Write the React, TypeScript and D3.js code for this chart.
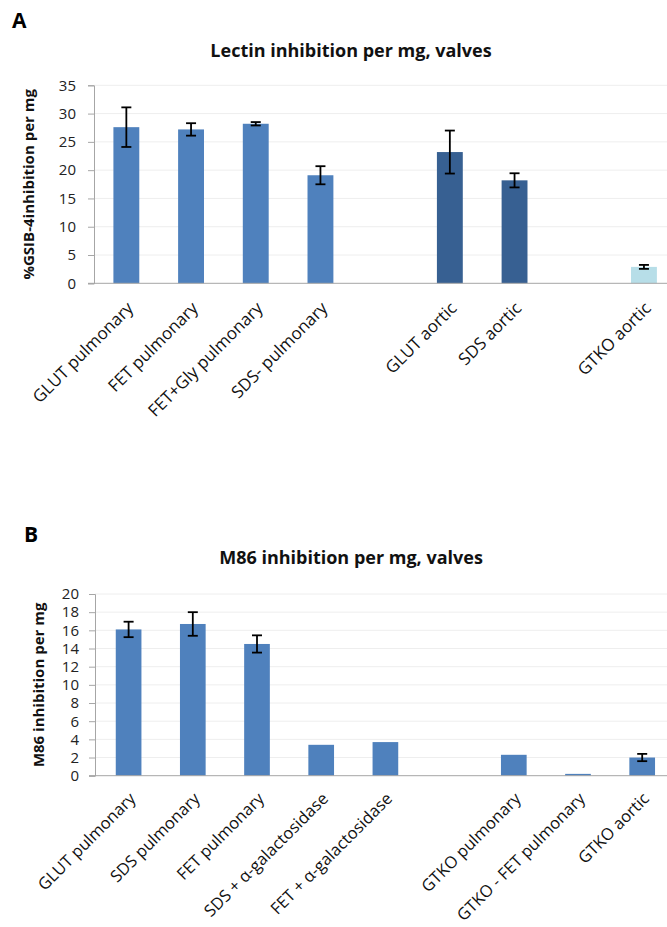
import React, { useEffect, useRef } from 'react';
import * as d3 from 'd3';

// panel A: lectin inhibition
const lectinCategories = ['GLUT pulmonary', 'FET pulmonary', 'FET+Gly pulmonary', 'SDS- pulmonary', '', 'GLUT aortic', 'SDS aortic', '', 'GTKO aortic'];
const lectinValues = [27.6, 27.2, 28.2, 19.1, null, 23.2, 18.2, null, 2.9];
const lectinErrors = [3.5, 1.1, 0.3, 1.6, null, 3.8, 1.25, null, 0.35];
const lectinGroups = ['pulmonary', 'pulmonary', 'pulmonary', 'pulmonary', '', 'aortic', 'aortic', '', 'gtko'];
const lectinTicks = [0, 5, 10, 15, 20, 25, 30, 35];

// panel B: M86 inhibition
const m86Categories = ['GLUT pulmonary', 'SDS pulmonary', 'FET pulmonary', 'SDS + α-galactosidase', 'FET + α-galactosidase', '', 'GTKO pulmonary', 'GTKO - FET pulmonary', 'GTKO aortic'];
const m86Values = [16.1, 16.7, 14.5, 3.4, 3.7, null, 2.3, 0.2, 2.0];
const m86Errors = [0.85, 1.3, 0.95, null, null, null, null, null, 0.4];
const m86Ticks = [0, 2, 4, 6, 8, 10, 12, 14, 16, 18, 20];

const colors: Record<string, string> = {
  pulmonary: '#4f81bd',
  aortic: '#376092',
  gtko: '#b7dee8',
};

const font = "'Open Sans', sans-serif";

type Panel = {
  letter: string;
  letterX: number;
  letterY: number;
  title: string;
  titleY: number;
  yLabel: string;
  yLabelX: number;
  categories: string[];
  values: (number | null)[];
  errors: (number | null)[];
  groups: string[];
  ticks: number[];
  yMax: number;
  axisX: number;
  slotStart: number;
  step: number;
  top: number;
  bottom: number;
  tickFont: number;
  tickRight: number;
  labelFont: number;
  labelDy: number;
};

export default function App() {
  const ref = useRef<SVGSVGElement>(null);

  useEffect(() => {
    const svg = d3.select(ref.current);
    svg.selectAll('*').remove();
    const width = 667;

    const drawPanel = (p: Panel) => {
      const g = svg.append('g');
      const idx = d3.range(p.categories.length);

      const x = d3
        .scaleBand<number>()
        .domain(idx)
        .range([p.slotStart, p.slotStart + p.step * idx.length])
        .paddingInner(0.6)
        .paddingOuter(0.3);

      const y = d3.scaleLinear().domain([0, p.yMax]).range([p.bottom, p.top]);

      // gridlines
      g.selectAll('.grid')
        .data(p.ticks.slice(1))
        .enter()
        .append('line')
        .attr('x1', p.axisX)
        .attr('x2', width)
        .attr('y1', (d) => y(d))
        .attr('y2', (d) => y(d))
        .attr('stroke', '#eeeeee')
        .attr('stroke-width', 1);

      // y axis
      const yAxis = d3.axisLeft(y).tickValues(p.ticks).tickSize(6).tickPadding(p.axisX - 6 - p.tickRight);
      const ya = g.append('g').attr('transform', `translate(${p.axisX},0)`).call(yAxis);
      ya.select('.domain').attr('stroke', '#a6a6a6');
      ya.selectAll('.tick line').attr('stroke', '#a6a6a6');
      ya.selectAll('.tick text')
        .attr('font-family', font)
        .attr('font-size', p.tickFont)
        .attr('fill', '#222');

      // bars
      const data = idx.filter((i) => p.values[i] != null);
      g.selectAll('.bar')
        .data(data)
        .enter()
        .append('rect')
        .attr('x', (i) => x(i)!)
        .attr('width', x.bandwidth())
        .attr('y', (i) => y(p.values[i]!))
        .attr('height', (i) => p.bottom - y(p.values[i]!))
        .attr('fill', (i) => colors[p.groups[i]]);

      // x axis line
      g.append('line')
        .attr('x1', p.axisX - 6)
        .attr('x2', width)
        .attr('y1', p.bottom)
        .attr('y2', p.bottom)
        .attr('stroke', '#a6a6a6');

      // error bars
      const errs = idx.filter((i) => p.errors[i] != null);
      const eb = g.selectAll('.err').data(errs).enter().append('g');
      const cx = (i: number) => x(i)! + x.bandwidth() / 2;
      eb.append('line')
        .attr('x1', cx)
        .attr('x2', cx)
        .attr('y1', (i) => y(p.values[i]! + p.errors[i]!))
        .attr('y2', (i) => y(p.values[i]! - p.errors[i]!))
        .attr('stroke', '#000')
        .attr('stroke-width', 1.8);
      [1, -1].forEach((s) => {
        eb.append('line')
          .attr('x1', (i) => cx(i) - 5)
          .attr('x2', (i) => cx(i) + 5)
          .attr('y1', (i) => y(p.values[i]! + s * p.errors[i]!))
          .attr('y2', (i) => y(p.values[i]! + s * p.errors[i]!))
          .attr('stroke', '#000')
          .attr('stroke-width', 1.8);
      });

      // category labels
      g.selectAll('.lab')
        .data(idx.filter((i) => p.categories[i] !== ''))
        .enter()
        .append('text')
        .attr('transform', (i) => `translate(${cx(i) + 8},${p.bottom + p.labelDy}) rotate(-45)`)
        .attr('text-anchor', 'end')
        .attr('font-family', font)
        .attr('font-size', p.labelFont)
        .attr('fill', '#111')
        .text((i) => p.categories[i]);

      // titles
      g.append('text')
        .attr('x', p.letterX)
        .attr('y', p.letterY)
        .attr('font-family', font)
        .attr('font-weight', 700)
        .attr('font-size', 21)
        .text(p.letter);

      g.append('text')
        .attr('x', 351)
        .attr('y', p.titleY)
        .attr('text-anchor', 'middle')
        .attr('font-family', font)
        .attr('font-weight', 700)
        .attr('font-size', 18)
        .attr('fill', '#111')
        .text(p.title);

      g.append('text')
        .attr('transform', `translate(${p.yLabelX},${(p.top + p.bottom) / 2}) rotate(-90)`)
        .attr('text-anchor', 'middle')
        .attr('font-family', font)
        .attr('font-weight', 700)
        .attr('font-size', 15)
        .attr('fill', '#111')
        .text(p.yLabel);
    };

    drawPanel({
      letter: 'A',
      letterX: 12,
      letterY: 28,
      title: 'Lectin inhibition per mg, valves',
      titleY: 57,
      yLabel: '%GSIB-4inhibition per mg',
      yLabelX: 34,
      categories: lectinCategories,
      values: lectinValues,
      errors: lectinErrors,
      groups: lectinGroups,
      ticks: lectinTicks,
      yMax: 35,
      axisX: 94,
      slotStart: 94,
      step: 64.7,
      top: 85.3,
      bottom: 283.3,
      tickFont: 15,
      tickRight: 76,
      labelFont: 17,
      labelDy: 26,
    });

    drawPanel({
      letter: 'B',
      letterX: 24,
      letterY: 542,
      title: 'M86 inhibition per mg, valves',
      titleY: 564,
      yLabel: 'M86 inhibition per mg',
      yLabelX: 44,
      categories: m86Categories,
      values: m86Values,
      errors: m86Errors,
      groups: m86Categories.map(() => 'pulmonary'),
      ticks: m86Ticks,
      yMax: 20,
      axisX: 95,
      slotStart: 96.5,
      step: 64.2,
      top: 594,
      bottom: 775.7,
      tickFont: 15,
      tickRight: 79,
      labelFont: 16.5,
      labelDy: 24,
    });
  }, []);

  return (
    <svg
      ref={ref}
      width={667}
      height={927}
      style={{ position: 'absolute', left: 0, top: 0, background: '#fff' }}
    />
  );
}
